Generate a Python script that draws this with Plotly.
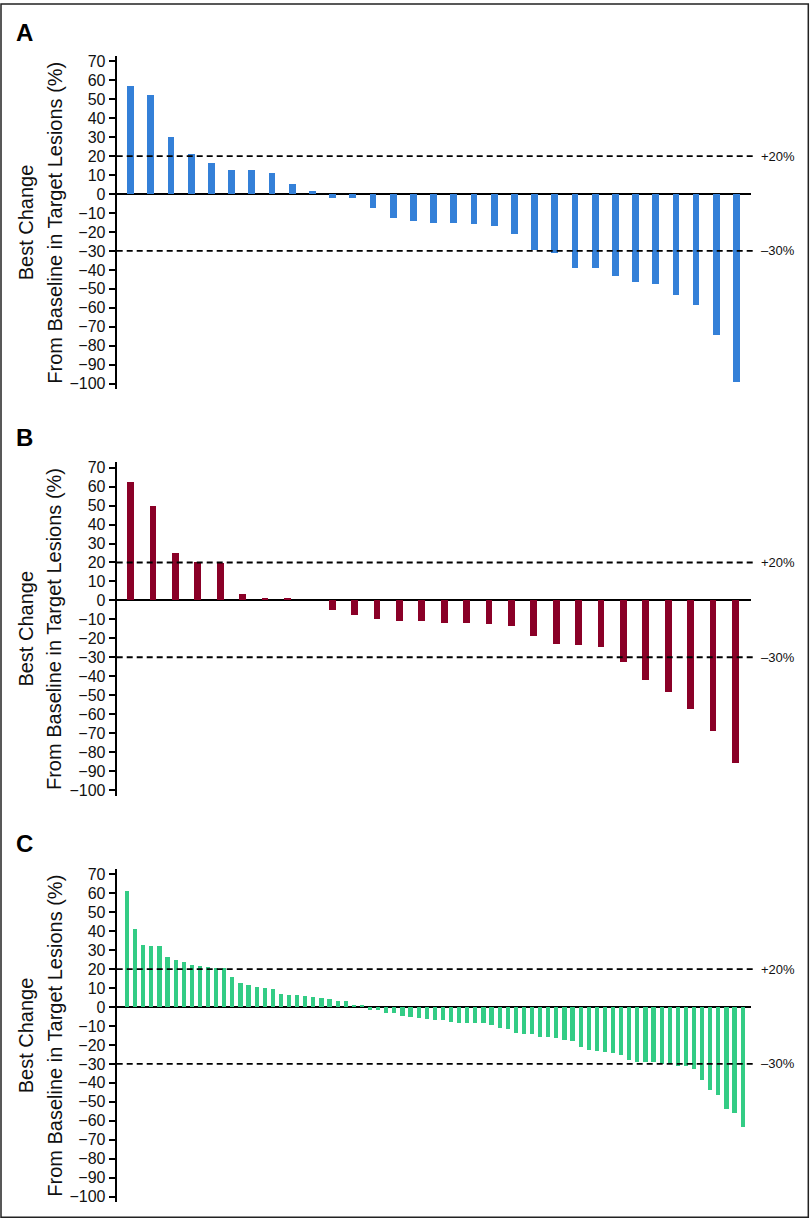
import plotly.graph_objects as go

# ---------------- data ----------------
panel_letters = ["A", "B", "C"]

values_a = [57.0, 52.3, 30.4, 21.2, 16.4, 13.1, 13.1, 11.5, 5.6, 1.9,
            -1.9, -1.9, -7.2, -12.6, -14.3, -14.9, -14.9, -15.6, -16.6, -20.8,
            -29.4, -30.8, -39.0, -39.0, -43.2, -46.2, -47.2, -53.0, -58.6, -74.2,
            -99.2]

values_b = [62.3, 50.0, 24.9, 20.5, 19.6, 3.5, 1.2, 1.2, 0.0,
            -4.9, -7.5, -10.0, -11.1, -11.1, -11.8, -11.8, -12.5, -13.4, -18.7,
            -22.8, -23.3, -24.7, -32.3, -41.8, -48.3, -57.1, -68.8, -85.7]

values_c = [61.3, 41.1, 33.1, 32.2, 32.2, 26.4, 24.8, 23.8, 22.2, 21.7,
            21.3, 20.7, 20.7, 15.9, 12.7, 11.6, 10.7, 10.1, 9.5, 7.2,
            6.7, 6.7, 6.2, 5.6, 4.9, 4.6, 3.1, 3.1, 1.5, 1.5,
            -1.5, -1.5, -3.1, -3.1, -4.7, -5.0, -5.8, -6.4, -6.8, -6.9,
            -7.7, -8.5, -8.5, -8.5, -8.5, -9.2, -10.9, -11.5, -13.3, -14.0,
            -14.0, -15.5, -15.5, -16.3, -17.2, -18.0, -21.1, -22.6, -22.8, -23.3,
            -24.2, -25.0, -27.6, -29.0, -29.0, -29.0, -29.7, -30.0, -30.8, -30.8,
            -32.5, -38.1, -43.7, -46.1, -53.4, -55.9, -62.9]

tick_values = list(range(-100, 71, 10))
tick_labels = [("\u2212%d" % -v) if v < 0 else str(v) for v in tick_values]
threshold_values = [20, -30]
threshold_labels = ["+20%", "\u201330%"]
title_line1 = "Best Change"
title_line2 = "From Baseline in Target Lesions (%)"

# ---------------- styling ----------------
W, H = 810, 1222
FONT = "Liberation Sans, Arial, Helvetica, sans-serif"
colors = ["#3480d8", "#8a0027", "#33cc85"]
bar_widths = [0.33, 0.31, 0.52]
x_left_px, x_right_px = 116.7, 751.0
panel_tops = [53.0, 461.3, 870.0]
panel_h = 335.2
x_ranges = [[-0.673, 30.73], [-0.607, 27.71], [-1.235, 77.07]]
y_range = [-103, 73]
letter_y = [30.0, 437.0, 845.0]

series = [values_a, values_b, values_c]

fig = go.Figure()
shapes = []
annotations = []

for i, vals in enumerate(series):
    k = "" if i == 0 else str(i + 1)
    xa, ya = "x" + k, "y" + k
    fig.add_trace(go.Bar(
        x=list(range(len(vals))), y=vals,
        marker=dict(color=colors[i], line=dict(width=0)),
        width=bar_widths[i], xaxis=xa, yaxis=ya, showlegend=False,
    ))
    top = panel_tops[i]
    bot = top + panel_h
    dom_y = [1 - bot / H, 1 - top / H]
    dom_x = [x_left_px / W, x_right_px / W]
    fig.layout["xaxis" + k] = dict(
        domain=dom_x, range=x_ranges[i], showline=False, showgrid=False,
        zeroline=False, showticklabels=False, ticks="", anchor=ya,
    )
    fig.layout["yaxis" + k] = dict(
        domain=dom_y, range=y_range, tickvals=tick_values, ticktext=tick_labels,
        showline=True, linecolor="black", linewidth=2,
        ticks="outside", ticklen=6, tickwidth=1.5, tickcolor="black",
        showgrid=False, zeroline=True, zerolinecolor="black", zerolinewidth=2,
        tickfont=dict(family=FONT, size=16, color="#111111"),
        anchor=xa,
    )
    for tv, tl in zip(threshold_values, threshold_labels):
        shapes.append(dict(
            type="line", xref=xa + " domain", x0=0, x1=1.003, yref=ya, y0=tv, y1=tv,
            line=dict(color="black", width=1.8, dash="6px,4px"), layer="above",
        ))
        annotations.append(dict(
            xref=xa + " domain", x=1, xanchor="left", xshift=8,
            yref=ya, y=tv, yanchor="middle", text=tl, showarrow=False,
            font=dict(family=FONT, size=13, color="#111111"),
        ))
    ymid = 1 - (top + panel_h / 2) / H
    annotations.append(dict(
        xref="paper", x=25.8 / W, xanchor="center", yref="paper", y=ymid,
        yanchor="middle", text=title_line1, textangle=-90, showarrow=False,
        font=dict(family=FONT, size=20, color="#111111"),
    ))
    annotations.append(dict(
        xref="paper", x=54.2 / W, xanchor="center", yref="paper", y=ymid,
        yanchor="middle", text=title_line2, textangle=-90, showarrow=False,
        font=dict(family=FONT, size=20, color="#111111"),
    ))
    annotations.append(dict(
        xref="paper", x=14 / W, xanchor="left", yref="paper", y=1 - letter_y[i] / H,
        yanchor="middle", text="<b>%s</b>" % panel_letters[i], showarrow=False,
        font=dict(family=FONT, size=24, color="black"),
    ))

# outer frame
shapes.append(dict(
    type="rect", xref="paper", yref="paper",
    x0=1 / W, x1=808.3 / W, y0=1 - 1220.3 / H, y1=1 - 1 / H,
    line=dict(color="#222222", width=1.5), fillcolor="rgba(0,0,0,0)",
))

fig.update_layout(
    width=W, height=H, margin=dict(l=0, r=0, t=0, b=0),
    paper_bgcolor="white", plot_bgcolor="white",
    shapes=shapes, annotations=annotations, bargap=0,
    font=dict(family=FONT),
)

fig.write_html("out.html", config={"displayModeBar": False},
               post_script="document.body.style.margin='0';")
